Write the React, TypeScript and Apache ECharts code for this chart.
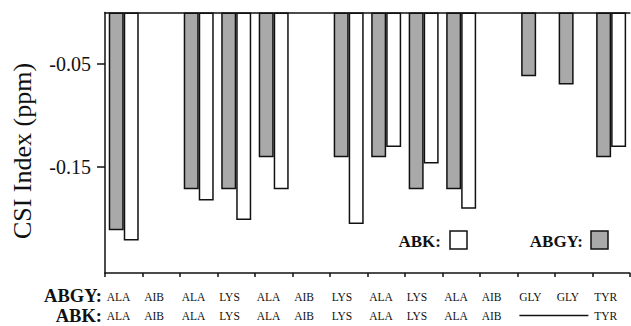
import React, { useEffect, useRef } from "react";
import * as echarts from "echarts";

const abgyNames = ["ALA", "AIB", "ALA", "LYS", "ALA", "AIB", "LYS", "ALA", "LYS", "ALA", "AIB", "GLY", "GLY", "TYR"];
const abkNames = ["ALA", "AIB", "ALA", "LYS", "ALA", "AIB", "LYS", "ALA", "LYS", "ALA", "AIB", "", "", "TYR"];
const abgyValues = [-0.212, null, -0.172, -0.172, -0.141, null, -0.141, -0.141, -0.172, -0.172, null, -0.062, -0.070, -0.141];
const abkValues = [-0.222, null, -0.183, -0.202, -0.172, null, -0.206, -0.131, -0.147, -0.191, null, null, null, -0.131];
const yTickValues = [-0.15, -0.05];

const SERIF = "Liberation Serif";
const INK = "#111";

export default function App() {
  const ref = useRef<HTMLDivElement>(null);
  useEffect(() => {
    if (!ref.current) return;
    const chart = echarts.init(ref.current, undefined, { renderer: "svg" });
    const cats = abgyNames.map((_, i) => String(i));
    chart.setOption({
      animation: false,
      backgroundColor: "#fff",
      textStyle: { fontFamily: SERIF },
      grid: { left: 105, top: 12.5, width: 528.5, height: 260.5 },
      xAxis: [
        {
          type: "category",
          data: cats,
          position: "bottom",
          axisLine: { onZero: false, lineStyle: { color: INK, width: 1.5 } },
          axisTick: { show: true, interval: 0, length: 4, lineStyle: { color: INK, width: 1.5 } },
          axisLabel: {
            interval: 0,
            margin: 14.5,
            fontFamily: SERIF,
            formatter: (_v: string, i: number) =>
              `{t|${abgyNames[i]}}{s|}\n{t|${abkNames[i]}}{s|}`,
            rich: {
              t: { fontFamily: SERIF, fontSize: 11.5, lineHeight: 19, width: 26, align: "left", color: INK },
              s: { width: 8, lineHeight: 19, fontFamily: SERIF },
            },
          },
          splitLine: { show: false },
        },
        {
          type: "category",
          data: cats,
          position: "top",
          axisLine: { onZero: false, lineStyle: { color: INK, width: 1.5 } },
          axisTick: { show: false },
          axisLabel: { show: false },
        },
      ],
      yAxis: {
        type: "value",
        min: -0.2536,
        max: 0,
        axisLine: { show: true, lineStyle: { color: INK, width: 1.5 } },
        axisTick: { show: true, length: 8, customValues: yTickValues, lineStyle: { color: INK, width: 1.5 } },
        axisLabel: {
          customValues: yTickValues,
          margin: 14,
          fontFamily: SERIF,
          fontSize: 20,
          color: INK,
          padding: [9, 0, 0, 0],
          formatter: (v: number) => v.toFixed(2),
        },
        splitLine: { show: false },
      },
      series: [
        {
          name: "ABGY",
          type: "bar",
          data: abgyValues,
          barWidth: 15,
          barGap: "0%",
          itemStyle: { color: "#a9a9a9", borderColor: INK, borderWidth: 1.5 },
        },
        {
          name: "ABK",
          type: "bar",
          data: abkValues,
          barWidth: 15,
          barGap: "0%",
          itemStyle: { color: "#ffffff", borderColor: INK, borderWidth: 1.5 },
        },
      ],
    });

    const c11 = chart.convertToPixel({ xAxisIndex: 0 }, "11") as number;
    const c12 = chart.convertToPixel({ xAxisIndex: 0 }, "12") as number;
    const c13 = chart.convertToPixel({ xAxisIndex: 0 }, "13") as number;
    const band = c12 - c11;
    const lineY = 315.5;

    const txt = (text: string, x: number, y: number, size: number, bold: boolean, align: string, extra: any = {}) => ({
      type: "text",
      x,
      y,
      ...extra,
      style: {
        text,
        fill: INK,
        fontFamily: SERIF,
        fontSize: size,
        fontWeight: bold ? "bold" : "normal",
        align,
        textAlign: align,
        verticalAlign: "middle",
        textVerticalAlign: "middle",
      },
    });

    chart.setOption({
      graphic: [
        txt("CSI Index (ppm)", 22, 151, 26, false, "center", { rotation: Math.PI / 2 }),
        txt("ABGY:", 102, 296, 18.5, true, "right"),
        txt("ABK:", 102, 315.5, 18.5, true, "right"),
        {
          type: "line",
          shape: { x1: c11 - band / 2 + 2, y1: lineY, x2: c13 - band / 2 - 4, y2: lineY },
          style: { stroke: INK, lineWidth: 1.5 },
        },
        txt("ABK:", 441, 241, 17, true, "right"),
        {
          type: "rect",
          shape: { x: 450, y: 231, width: 17, height: 18 },
          style: { fill: "#fff", stroke: INK, lineWidth: 1.5 },
        },
        txt("ABGY:", 583, 241, 17, true, "right"),
        {
          type: "rect",
          shape: { x: 591, y: 231, width: 17, height: 18 },
          style: { fill: "#a9a9a9", stroke: INK, lineWidth: 1.5 },
        },
      ],
    });

    return () => chart.dispose();
  }, []);
  return (
    <div
      ref={ref}
      style={{ position: "absolute", left: 0, top: 0, width: 631, height: 326, background: "#fff" }}
    />
  );
}
